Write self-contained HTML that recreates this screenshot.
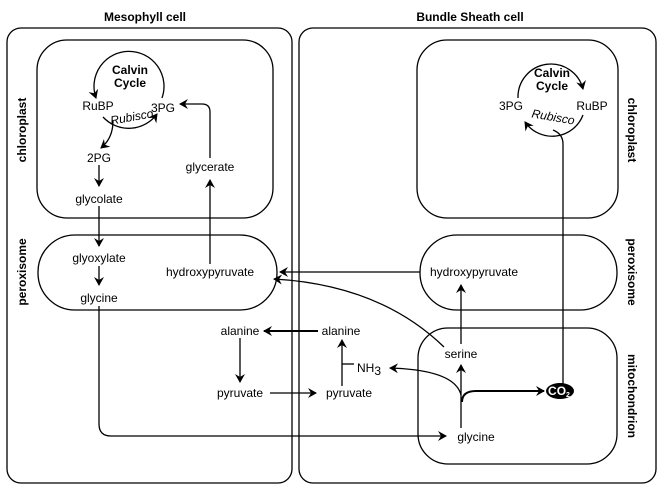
<!DOCTYPE html>
<html><head><style>
html,body{margin:0;padding:0;background:#fff;}
svg{display:block;font-family:"Liberation Sans",Arial,sans-serif;}
text{font-size:12px;fill:#000;}
.b{font-weight:bold;}
</style></head><body>
<svg width="660" height="489" viewBox="0 0 660 489" xmlns="http://www.w3.org/2000/svg">
<defs>
<marker id="a" markerWidth="10" markerHeight="10" refX="8" refY="5" orient="auto" markerUnits="userSpaceOnUse">
<path d="M0,0 L9,5 L0,10 L3,5 Z" fill="#000"/></marker>
</defs>
<g fill="none" stroke="#000" stroke-width="1.3">
<rect x="7" y="28" width="285" height="455" rx="14"/>
<rect x="299" y="28" width="357" height="455" rx="14"/>
<rect x="37" y="40" width="236" height="178" rx="30"/>
<rect x="38" y="235" width="239" height="75" rx="37"/>
<rect x="417" y="40" width="201" height="178" rx="30"/>
<rect x="420" y="235" width="197" height="75" rx="37"/>
<rect x="418" y="328" width="199" height="136" rx="30"/>
</g>
<text x="145" y="21" text-anchor="middle" class="b" font-size="12">Mesophyll cell</text>
<text x="470" y="21" text-anchor="middle" class="b" font-size="12">Bundle Sheath cell</text>
<text transform="translate(26,130) rotate(-90)" text-anchor="middle" class="b">chloroplast</text>
<text transform="translate(26,272) rotate(-90)" text-anchor="middle" class="b">peroxisome</text>
<text transform="translate(628,130) rotate(90)" text-anchor="middle" class="b">chloroplast</text>
<text transform="translate(628,272) rotate(90)" text-anchor="middle" class="b">peroxisome</text>
<text transform="translate(628,396) rotate(90)" text-anchor="middle" class="b">mitochondrion</text>
<g fill="none" stroke="#000" stroke-width="1.3">
<path d="M162,98 A35,35 0 1 0 96,98" marker-end="url(#a)"/>
<path d="M103,117 A35,35 0 0 0 157,114" marker-end="url(#a)"/>
<path d="M113,121 Q113,138 101,148" marker-end="url(#a)"/>
<line x1="99" y1="165" x2="99" y2="186" marker-end="url(#a)"/>
<line x1="99" y1="206" x2="99" y2="246" marker-end="url(#a)"/>
<line x1="99" y1="266" x2="99" y2="285" marker-end="url(#a)"/>
<path d="M99,306 L99,424 Q99,436 111,436 L446,436" marker-end="url(#a)"/>
<line x1="210" y1="264" x2="210" y2="180" marker-end="url(#a)"/>
<path d="M210,158 L210,112 Q210,104 202,104 L180,104" marker-end="url(#a)"/>
<path d="M518,98 A33,33 0 0 1 583,89" marker-end="url(#a)"/>
<path d="M583,115 A33,33 0 0 1 525,122" marker-end="url(#a)"/>
<path d="M563,384 L563,144 Q563,134 553,130"/>
<line x1="420" y1="272" x2="280" y2="272" marker-end="url(#a)"/>
<path d="M444,347 Q380,285 274,279" marker-end="url(#a)"/>
<line x1="461" y1="344" x2="461" y2="285" marker-end="url(#a)"/>
<line x1="461" y1="428" x2="461" y2="365" marker-end="url(#a)"/>
<path d="M461,395 Q455,370 390,368" marker-end="url(#a)"/>
<path d="M462,402 Q462,391 476,391 L544,391" stroke-width="2" marker-end="url(#a)"/>
<line x1="354" y1="364" x2="342" y2="364"/>
<line x1="342" y1="386" x2="342" y2="340" marker-end="url(#a)"/>
<line x1="318" y1="331" x2="264" y2="331" stroke-width="2" marker-end="url(#a)"/>
<line x1="240" y1="338" x2="240" y2="382" marker-end="url(#a)"/>
<line x1="270" y1="393" x2="316" y2="393" marker-end="url(#a)"/>
</g>
<text x="130" y="74" text-anchor="middle" class="b" font-size="10">Calvin</text>
<text x="130" y="87" text-anchor="middle" class="b" font-size="10">Cycle</text>
<text x="98" y="110" text-anchor="middle">RuBP</text>
<text x="163" y="112" text-anchor="middle">3PG</text>
<text x="132" y="121" text-anchor="middle" font-style="italic" font-size="9" transform="rotate(-10 132 118)">Rubisco</text>
<text x="99" y="162" text-anchor="middle">2PG</text>
<text x="99" y="203" text-anchor="middle">glycolate</text>
<text x="210" y="171" text-anchor="middle">glycerate</text>
<text x="99" y="262" text-anchor="middle">glyoxylate</text>
<text x="99" y="302" text-anchor="middle">glycine</text>
<text x="210" y="276" text-anchor="middle">hydroxypyruvate</text>
<text x="552" y="77" text-anchor="middle" class="b" font-size="10">Calvin</text>
<text x="552" y="90" text-anchor="middle" class="b" font-size="10">Cycle</text>
<text x="511" y="110" text-anchor="middle">3PG</text>
<text x="592" y="110" text-anchor="middle">RuBP</text>
<text x="553" y="121" text-anchor="middle" font-style="italic" font-size="9" transform="rotate(10 553 118)">Rubisco</text>
<text x="474" y="276" text-anchor="middle">hydroxypyruvate</text>
<text x="461" y="358" text-anchor="middle">serine</text>
<text x="476" y="441" text-anchor="middle">glycine</text>
<ellipse cx="560" cy="391" rx="14" ry="8" fill="#000"/>
<text x="559" y="395" text-anchor="middle" style="fill:#fff" class="b" font-size="10">CO<tspan font-size="7" dy="2">2</tspan></text>
<text x="357" y="372">NH<tspan dy="3">3</tspan></text>
<text x="240" y="335" text-anchor="middle">alanine</text>
<text x="341" y="335" text-anchor="middle">alanine</text>
<text x="240" y="397" text-anchor="middle">pyruvate</text>
<text x="349" y="397" text-anchor="middle">pyruvate</text>
</svg>
</body></html>
